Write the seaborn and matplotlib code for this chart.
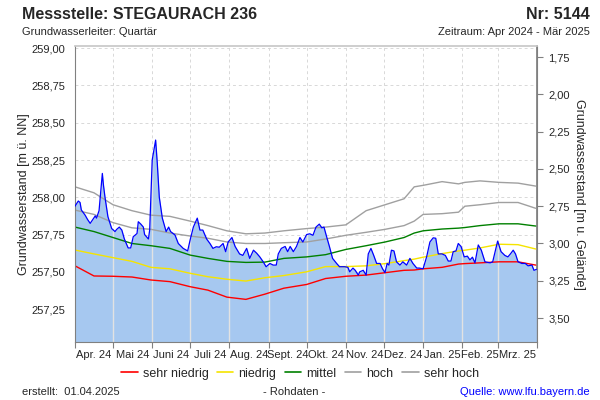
"""
plot.py
Grundwasserstand Messstelle STEGAURACH 236 (Apr 2024 - Mär 2025)
mit den Vergleichslinien sehr niedrig ... sehr hoch.
"""

import numpy as np
import pandas as pd
import matplotlib
matplotlib.use("Agg")
import matplotlib.pyplot as plt
from matplotlib.lines import Line2D
import seaborn as sns

# ---- Daten ----
START = pd.Timestamp("2024-04-01")
ENDE = pd.Timestamp("2025-04-01")
GELAENDE = 260.69  # Geländehöhe [m ü. NN] für die rechte Achse

# Messwerte (Tage ab 01.04.2024, Wasserstand m ü. NN)
mess_tage = [0, 2.6, 4, 5, 8, 10, 12, 14, 16, 17, 19, 20.5, 21.6, 22.5, 23.7, 26, 29,
             31.6, 33, 35, 37, 39, 42, 44, 46, 49, 50, 52, 54, 55, 58, 59, 61, 63.7,
             65, 66.6, 69, 72, 74, 75.5, 79, 81.6, 85.5, 89, 91, 93.5, 96.6, 98.7,
             101, 104, 106.6, 109, 111.6, 114, 117, 119, 121, 124, 126.5, 130,
             132.6, 135.6, 138, 141, 143.5, 146, 148.7, 151, 154, 156.6, 159,
             160.6, 163, 166, 168, 170, 172.5, 175, 177.7, 180, 183, 185.5, 188,
             190.4, 193, 195, 196.7, 198.8, 201, 203.5, 206.7, 209, 213, 215.6,
             217, 219.6, 221.4, 223.8, 225, 227.7, 230, 231.7, 233.8, 236, 238.3,
             241, 243, 244.9, 246.6, 248, 250, 252, 254, 256.7, 259, 262, 264.6,
             267, 270, 272, 275, 277.8, 280.4, 283, 285, 287, 290, 292.6, 294.9,
             297, 298.8, 301, 302.8, 305, 307.5, 310, 312, 314, 316, 318.6, 321,
             323.9, 328, 330, 333.9, 336.6, 339.6, 342, 344, 346.2, 348, 350, 353,
             355.7, 358, 361, 362.6, 364.5]
mess_stand = [257.94, 257.975, 257.965, 257.915, 257.88, 257.85, 257.825, 257.85,
              257.875, 257.86, 257.91, 258.05, 258.16, 258.08, 258.0, 257.87, 257.79,
              257.77, 257.785, 257.80, 257.78, 257.72, 257.66, 257.66, 257.735,
              257.757, 257.836, 257.82, 257.80, 257.75, 257.72, 257.78, 258.25,
              258.384, 258.23, 258.0, 257.86, 257.77, 257.80, 257.77, 257.747,
              257.69, 257.657, 257.64, 257.715, 257.80, 257.86, 257.78, 257.78,
              257.72, 257.69, 257.657, 257.668, 257.665, 257.69, 257.635, 257.70,
              257.73, 257.67, 257.62, 257.61, 257.657, 257.59, 257.645, 257.625,
              257.60, 257.567, 257.534, 257.556, 257.545, 257.545, 257.62, 257.657,
              257.67, 257.635, 257.67, 257.635, 257.67, 257.73, 257.70, 257.75,
              257.755, 257.745, 257.80, 257.82, 257.795, 257.80, 257.735, 257.67,
              257.59, 257.556, 257.534, 257.534, 257.53, 257.50, 257.525, 257.51,
              257.478, 257.50, 257.51, 257.478, 257.62, 257.657, 257.61, 257.556,
              257.556, 257.52, 257.494, 257.556, 257.545, 257.645, 257.64, 257.567,
              257.545, 257.567, 257.545, 257.59, 257.556, 257.525, 257.525, 257.52,
              257.60, 257.70, 257.728, 257.725, 257.62, 257.62, 257.61, 257.572,
              257.572, 257.635, 257.64, 257.69, 257.67, 257.60, 257.605, 257.58,
              257.598, 257.56, 257.68, 257.645, 257.567, 257.56, 257.567, 257.706,
              257.635, 257.61, 257.60, 257.62, 257.645, 257.62, 257.567, 257.556,
              257.556, 257.54, 257.545, 257.51, 257.516]

# Vergleichslinien (gemeinsame Stützstellen)
ref_tage = [0, 15, 30, 45, 60, 75, 91, 105, 120, 135, 150, 165, 183, 198, 214, 230,
            245, 260, 268, 275, 290, 303, 308, 320, 335, 350, 364]
sehr_niedrig = [257.54, 257.472, 257.47, 257.465, 257.445, 257.434, 257.40, 257.377,
                257.33, 257.315, 257.35, 257.39, 257.415, 257.455, 257.47, 257.478,
                257.494, 257.51, 257.512, 257.52, 257.53, 257.552, 257.555, 257.56,
                257.567, 257.567, 257.545]
niedrig = [257.646, 257.62, 257.595, 257.57, 257.53, 257.52, 257.49, 257.467, 257.45,
           257.438, 257.46, 257.475, 257.50, 257.535, 257.535, 257.54, 257.555,
           257.575, 257.585, 257.598, 257.622, 257.64, 257.645, 257.66, 257.685,
           257.682, 257.653]
mittel = [257.80, 257.77, 257.73, 257.69, 257.675, 257.657, 257.612, 257.59, 257.57,
          257.563, 257.565, 257.59, 257.60, 257.615, 257.65, 257.675, 257.70, 257.73,
          257.76, 257.775, 257.787, 257.793, 257.797, 257.81, 257.822, 257.822,
          257.807]
hoch = [257.914, 257.885, 257.83, 257.795, 257.785, 257.76, 257.74, 257.725, 257.70,
        257.69, 257.69, 257.695, 257.70, 257.72, 257.745, 257.765, 257.785, 257.81,
        257.84, 257.885, 257.89, 257.90, 257.94, 257.95, 257.965, 257.965, 257.926]
sehr_hoch = [258.07, 258.03, 257.95, 257.91, 257.88, 257.872, 257.84, 257.81, 257.775,
             257.755, 257.76, 257.775, 257.79, 257.80, 257.815, 257.91, 257.95, 257.99,
             258.07, 258.08, 258.105, 258.09, 258.10, 258.11, 258.10, 258.095, 258.075]

monats_labels = ["Apr. 24", "Mai 24", "Juni 24", "Juli 24", "Aug. 24", "Sept. 24",
                 "Okt. 24", "Nov. 24", "Dez. 24", "Jan. 25", "Feb. 25", "Mrz. 25"]

links_ticks = [257.25, 257.50, 257.75, 258.00, 258.25, 258.50, 258.75, 259.00]
rechts_ticks = [1.75, 2.00, 2.25, 2.50, 2.75, 3.00, 3.25, 3.50]


def komma(v):
    return f"{v:.2f}".replace(".", ",")


def main():
    sns.set_theme(style="white")
    plt.rcParams["font.family"] = ["Liberation Sans", "DejaVu Sans"]

    mess = pd.DataFrame({
        "datum": START + pd.to_timedelta(mess_tage, unit="D"),
        "stand": mess_stand,
    })
    ref = pd.DataFrame({"datum": START + pd.to_timedelta(ref_tage, unit="D")})
    linien = [
        ("sehr niedrig", sehr_niedrig, "#ff0000"),
        ("niedrig", niedrig, "#f5e400"),
        ("mittel", mittel, "#008000"),
        ("hoch", hoch, "#a0a0a0"),
        ("sehr hoch", sehr_hoch, "#a0a0a0"),
    ]

    fig = plt.figure(figsize=(6, 4), dpi=100)
    ax = fig.add_axes([0.125, 0.145, 0.77, 0.74])

    ymin, ymax = 257.029, 259.015
    ax.set_ylim(ymin, ymax)
    ax.set_xlim(START, ENDE)

    # Raster (gestrichelt, liegt hinter der Fläche)
    monate = pd.date_range(START, ENDE, freq="MS")
    for y in links_ticks:
        ax.axhline(y, color="#d8d8d8", lw=0.7, ls=(0, (3, 3)), zorder=0)
    for m in monate[1:-1]:
        ax.axvline(m, color="#d8d8d8", lw=0.7, ls=(0, (3, 3)), zorder=0)

    # Fläche unter den Messwerten, Monatslinien hell darauf
    fl = ax.fill_between(mess["datum"], mess["stand"], ymin, color="#a6c8f0",
                         lw=0, zorder=1)
    pfad = fl.get_paths()[0]
    for m in monate[1:-1]:
        vl = ax.axvline(m, color="#e2e2e2", lw=1.0, zorder=1.5)
        vl.set_clip_path(pfad, ax.transData)

    for name, werte, farbe in linien:
        ref[name] = werte
        sns.lineplot(data=ref, x="datum", y=name, color=farbe, lw=1.0, ax=ax, zorder=2)

    sns.lineplot(data=mess, x="datum", y="stand", color="#0000ff", lw=0.9, ax=ax, zorder=3)

    # Achsen
    for s in ["left", "bottom", "right"]:
        ax.spines[s].set_color("#808080")
        ax.spines[s].set_linewidth(0.8)
    ax.spines["top"].set_color("#c8c8c8")

    ax.set_yticks(links_ticks)
    ax.set_yticklabels([komma(v) for v in links_ticks], fontsize=8)
    ax.tick_params(axis="y", length=0, pad=7)
    ax.set_ylabel("Grundwasserstand [m ü. NN]", fontsize=9, labelpad=1)
    ax.set_xlabel("")

    ax.set_xticks(monate)
    ax.set_xticklabels([])
    ax.tick_params(axis="x", which="major", length=4, width=0.8, color="#808080",
                   direction="out", bottom=True)
    mitten = [m + (n - m) / 2 for m, n in zip(monate[:-1], monate[1:])]
    ax.set_xticks(mitten, minor=True)
    ax.set_xticklabels(monats_labels, minor=True, fontsize=8)
    ax.tick_params(axis="x", which="minor", length=0, pad=6)

    rechts = ax.secondary_yaxis("right", functions=(lambda v: GELAENDE - v,
                                                     lambda v: GELAENDE - v))
    rechts.set_yticks(rechts_ticks)
    rechts.set_yticklabels([komma(v) for v in rechts_ticks], fontsize=8)
    rechts.tick_params(length=4, width=0.8, color="#808080", pad=4)
    rechts.spines["right"].set_color("#808080")
    rechts.set_ylabel("Grundwasserstand [m u. Gelände]", fontsize=9, rotation=-90,
                      labelpad=11)

    # Legende
    griffe = [Line2D([0], [0], color=f, lw=1.2) for _, _, f in linien]
    fig.legend(griffe, [n for n, _, _ in linien], loc="center", ncol=5,
               bbox_to_anchor=(0.5, 0.066), frameon=False, fontsize=9,
               handlelength=1.3, handletextpad=0.4, columnspacing=0.7)

    # Texte
    fig.text(0.037, 0.952, "Messstelle: STEGAURACH 236", fontsize=11.5,
             fontweight="bold", ha="left", va="baseline")
    fig.text(0.983, 0.952, "Nr: 5144", fontsize=11.5, fontweight="bold",
             ha="right", va="baseline")
    fig.text(0.037, 0.912, "Grundwasserleiter: Quartär", fontsize=8, ha="left",
             va="baseline")
    fig.text(0.983, 0.912, "Zeitraum: Apr 2024 - Mär 2025", fontsize=8, ha="right",
             va="baseline")
    fig.text(0.037, 0.012, "erstellt:  01.04.2025", fontsize=8, ha="left",
             va="baseline")
    fig.text(0.49, 0.012, "- Rohdaten -", fontsize=8, ha="center", va="baseline")
    fig.text(0.983, 0.012, "Quelle: www.lfu.bayern.de", fontsize=8, ha="right",
             va="baseline", color="#0000ff")

    fig.savefig("out.png", dpi=100)


if __name__ == "__main__":
    main()
